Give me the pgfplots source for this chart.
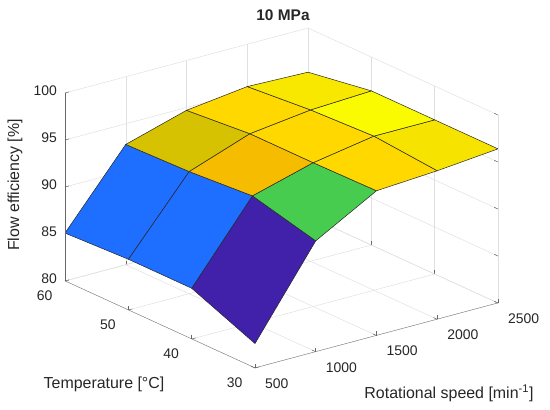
\documentclass[border=0pt]{standalone}
\usepackage{pgfplots}
\pgfplotsset{compat=1.18}
\usepackage{fontspec}
\setmainfont{Liberation Sans}
\definecolor{axgray}{RGB}{38,38,38}
\definecolor{gridgray}{RGB}{224,224,224}
\begin{document}
\begin{tikzpicture}
\begin{axis}[
  x={(0.1215bp,0.0325bp)}, y={(-6.333bp,2.9bp)}, z={(0bp,9.4bp)},
  xmin=500, xmax=2500, ymin=30, ymax=60, zmin=80, zmax=100,
  xtick={500,1000,1500,2000,2500}, ytick={30,40,50,60}, ztick={80,85,90,95,100},
  tick pos=left,
  grid=major, major grid style={gridgray, line width=0.5bp},
  axis line style={draw=none},
  tick style={axgray!70, line width=0.5bp},
  ticklabel style={font=\fontsize{14}{16}\selectfont, text=axgray, inner sep=0pt},
  xticklabel style={anchor=west, xshift=10bp, yshift=-15.5bp},
  yticklabel style={anchor=east, xshift=-12.5bp, yshift=-14.5bp},
  zticklabel style={anchor=east, xshift=-8bp, yshift=2.5bp},
  /pgf/number format/assume math mode=true,
  /pgf/number format/1000 sep={},
  z buffer=none,
  colormap={patches}{rgb255=(65,32,170) rgb255=(30,110,255) rgb255=(72,204,80)
    rgb255=(245,188,0) rgb255=(214,194,0) rgb255=(255,216,0)
    rgb255=(248,232,0) rgb255=(250,250,0) rgb255=(246,228,0)},
  colormap access=direct,
]
\addplot3[surf, shader=flat corner, draw=black!85, line width=0.5bp, point meta=explicit]
  table[x=s, y=T, z=eff, meta=c] {
s T eff c
500 30 82.6 0
1000 30 91.8 2
1500 30 95.4 5
2000 30 95.8 8
2500 30 96.4 8

500 40 85.4 1
1000 40 93.5 3
1500 40 95.3 5
2000 40 96.4 7
2500 40 96.4 7

500 50 85.4 1
1000 50 93.0 4
1500 50 95.3 5
2000 50 96.1 6
2500 50 96.4 6

500 60 85.1 1
1000 60 92.8 4
1500 60 94.7 5
2000 60 95.5 6
2500 60 95.3 6
};
\coordinate (fc) at (axis cs:500,30,80);
\draw[axgray!70, line width=0.6bp] (axis cs:500,60,80) -- (axis cs:500,30,80) -- (axis cs:2500,30,80);
\draw[axgray!70, line width=0.6bp] (axis cs:500,60,80) -- (axis cs:500,60,100);
\end{axis}
\pgfresetboundingbox
\path[use as bounding box] ([shift={(-255bp,-42bp)}]fc) rectangle ([shift={(295bp,368bp)}]fc);
\node[text=axgray, font=\fontsize{15.5}{18}\selectfont\bfseries] at ([shift={(28bp,353bp)}]fc) {10 MPa};
\node[text=axgray, font=\fontsize{16}{18}\selectfont] at ([shift={(-151bp,-16bp)}]fc) {Temperature [°C]};
\node[text=axgray, font=\fontsize{16}{18}\selectfont] at ([shift={(194bp,-25bp)}]fc) {Rotational speed [min\textsuperscript{-1}]};
\node[text=axgray, font=\fontsize{16}{18}\selectfont, rotate=90] at ([shift={(-240bp,183bp)}]fc) {Flow efficiency [\%]};
\end{tikzpicture}
\end{document}
